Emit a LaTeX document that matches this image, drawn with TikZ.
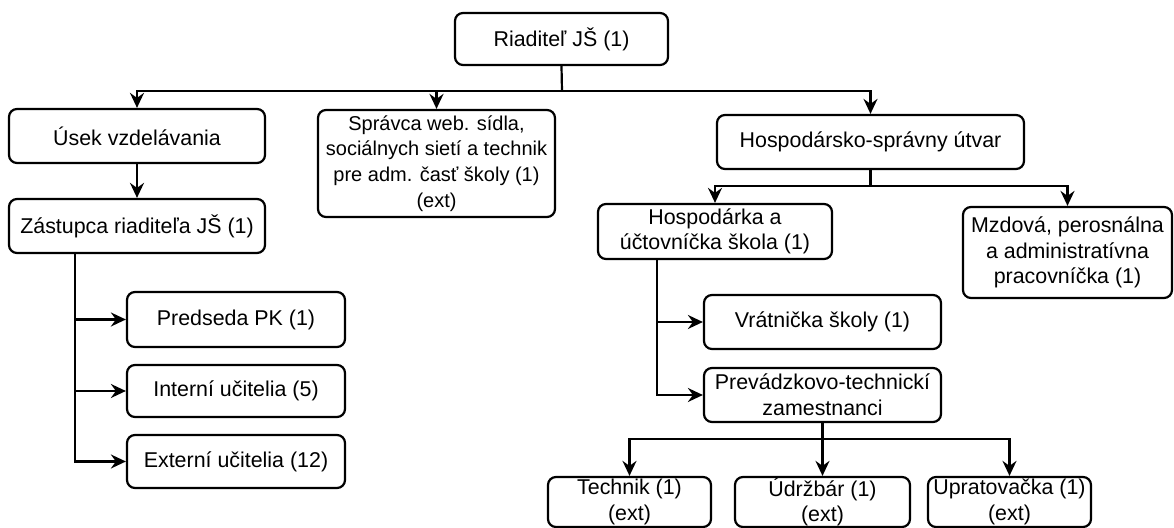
\documentclass[tikz,border=0pt]{standalone}
\usepackage{fontspec}
\setmainfont{Liberation Sans}
\usepackage{tikz}
\usetikzlibrary{arrows.meta}
\tikzset{
  box/.style={draw, line width=1.1pt, rounded corners=4pt, align=center, inner sep=0pt,
    font=\fontsize{10.7}{12.8}\selectfont},
  link/.style={draw, line width=1.1pt},
  arr/.style={link, -{Stealth[length=7.5pt,width=7pt,inset=2.5pt]}},
}

\begin{document}
\begin{tikzpicture}[x=0.5pt, y=-0.5pt]
  \useasboundingbox (0,0) rectangle (1174,528);
  % top level
  \node[box, minimum width=106.5pt, minimum height=26pt] (dir) at (561.5,39) {Riaditeľ JŠ (1)};
  \node[box, minimum width=128pt, minimum height=27pt] (usek) at (137,136) {Úsek vzdelávania};
  \node[box, minimum width=118.5pt, minimum height=53.5pt, font=\fontsize{10}{12.8}\selectfont] (spr) at (436.5,163.5)
    {Správca web. sídla,\\ sociálnych sietí a technik\\ pre adm. časť školy (1)\\ (ext)};
  \node[box, minimum width=153.5pt, minimum height=27pt] (hsu) at (870.5,142) {Hospodársko-správny útvar};
  \coordinate (bus) at (562,91);
  \draw[link] (dir.south) -- (bus);
  \draw[arr] (bus) -| (usek.north);
  \draw[arr] (bus) -| (hsu.north);
  \draw[arr] (spr.north |- bus) -- (spr.north);
  % education
  \node[box, minimum width=128pt, minimum height=27pt] (zas) at (137,226) {Zástupca riaditeľa JŠ (1)};
  \node[box, minimum width=109pt, minimum height=27.5pt] (pk) at (236,319.5) {Predseda PK (1)};
  \node[box, minimum width=109pt, minimum height=26pt] (int) at (236,391) {Interní učitelia (5)};
  \node[box, minimum width=109pt, minimum height=26.5pt] (ext) at (236,461.5) {Externí učitelia (12)};
  \draw[arr] (usek) -- (zas);
  \draw[arr] ([xshift=-31pt]zas.south) |- (pk.west);
  \draw[arr] ([xshift=-31pt]zas.south) |- (int.west);
  \draw[arr] ([xshift=-31pt]zas.south) |- (ext.west);
  % economy
  \node[box, minimum width=117pt, minimum height=27.5pt] (hosp) at (715,231.5)
    {Hospodárka a\\ účtovníčka škola (1)};
  \node[box, minimum width=104.5pt, minimum height=45.5pt] (mzd) at (1067.5,252.5)
    {Mzdová, perosnálna\\ a administratívna\\ pracovníčka (1)};
  \coordinate (hbus) at (870.5,186);
  \draw[link] (hsu.south) -- (hbus);
  \draw[arr] (hbus) -| (hosp.north);
  \draw[arr] (hbus) -| (mzd.north);
  \node[box, minimum width=118.5pt, minimum height=27pt] (vrat) at (822.5,322) {Vrátnička školy (1)};
  \node[box, minimum width=118.5pt, minimum height=27pt] (prev) at (822.5,395)
    {Prevádzkovo-technickí\\ zamestnanci};
  \draw[arr] ([xshift=-29pt]hosp.south) |- (vrat.west);
  \draw[arr] ([xshift=-29pt]hosp.south) |- (prev.west);
  % technical staff
  \node[box, minimum width=81.5pt, minimum height=25pt] (tech) at (629.5,502) {Technik (1)\\ (ext)};
  \node[box, minimum width=87.5pt, minimum height=25pt] (udr) at (822.5,502) {Údržbár (1)\\ (ext)};
  \node[box, minimum width=81.5pt, minimum height=25pt] (upr) at (1009.5,502) {Upratovačka (1)\\ (ext)};
  \coordinate (pbus) at (822.5,439);
  \draw[link] (prev.south) -- (pbus);
  \draw[arr] (pbus) -| (tech.north);
  \draw[arr] (pbus) -- (udr.north);
  \draw[arr] (pbus) -| (upr.north);
\end{tikzpicture}
\end{document}
